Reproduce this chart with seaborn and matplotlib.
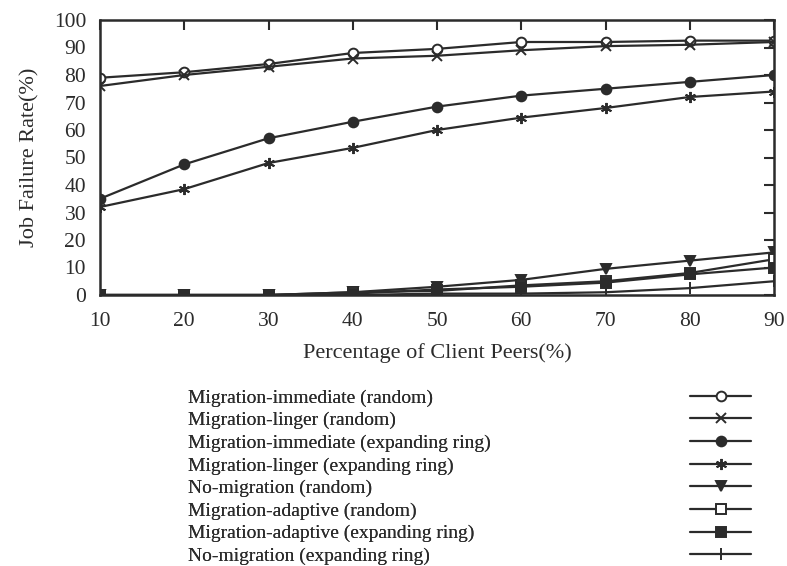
import matplotlib
matplotlib.use("Agg")
import matplotlib.pyplot as plt
import seaborn as sns
import pandas as pd

sns.set_theme(style="white")
plt.rcParams['font.family'] = ['Liberation Serif', 'DejaVu Serif']

x_pct = [10, 20, 30, 40, 50, 60, 70, 80, 90]
series_names = [
    "Migration-immediate (random)",
    "Migration-linger (random)",
    "Migration-immediate (expanding ring)",
    "Migration-linger (expanding ring)",
    "No-migration (random)",
    "Migration-adaptive (random)",
    "Migration-adaptive (expanding ring)",
    "No-migration (expanding ring)",
]
mig_imm_random = [79, 81, 84, 88, 89.5, 92, 92, 92.5, 92.5]
mig_linger_random = [76, 80, 83, 86, 87, 89, 90.5, 91, 92]
mig_imm_ring = [35, 47.5, 57, 63, 68.5, 72.5, 75, 77.5, 80]
mig_linger_ring = [32, 38.5, 48, 53.5, 60, 64.5, 68, 72, 74]
nomig_random = [0, 0, 0, 1, 3, 5.5, 9.5, 12.5, 15.5]
mig_adapt_random = [0, 0, 0, 1, 1.5, 3.5, 5, 8, 13]
mig_adapt_ring = [0, 0, 0, 0.5, 2, 3, 4.5, 7.5, 10]
nomig_ring = [0, 0, 0, 0, 0.5, 0.5, 1, 2.5, 5]
values = [mig_imm_random, mig_linger_random, mig_imm_ring, mig_linger_ring,
          nomig_random, mig_adapt_random, mig_adapt_ring, nomig_ring]

ink = "#2b2b2b"
styles = [
    dict(marker="o", mfc="white", ms=7),
    dict(marker="x", mfc=ink, ms=7),
    dict(marker="o", mfc=ink, ms=7),
    dict(marker=(6, 2, 0), mfc=ink, ms=8),
    dict(marker="v", mfc=ink, ms=7),
    dict(marker="s", mfc="white", ms=6.5),
    dict(marker="s", mfc=ink, ms=6.5),
    dict(marker="|", mfc=ink, ms=9),
]

fig = plt.figure(figsize=(7.87, 5.66), dpi=100)
ax = fig.add_axes([100/787, 1 - 295/566, (774-100)/787, (295-20)/566])

for name, vals, st in zip(series_names, values, styles):
    df = pd.DataFrame({"x": x_pct, "y": vals})
    sns.lineplot(data=df, x="x", y="y", ax=ax, color=ink, linewidth=1.6,
                 marker=st["marker"], markersize=st["ms"],
                 markerfacecolor=st["mfc"], markeredgecolor=ink,
                 markeredgewidth=1.4, label=name, legend=False)

ax.set_xlim(10, 90)
ax.set_ylim(0, 100)
ax.set_xticks(x_pct)
ax.set_yticks(range(0, 101, 10))
ax.tick_params(direction="in", length=7, width=1.5, top=True, right=True,
               labelsize=15.5, colors=ink)
ax.tick_params(axis="y", pad=10)
ax.tick_params(axis="x", pad=12)
for s in ax.spines.values():
    s.set_linewidth(1.8)
    s.set_color(ink)
ax.set_xlabel("Percentage of Client Peers(%)", fontsize=16, color=ink, labelpad=9)
ax.set_ylabel("Job Failure Rate(%)", fontsize=16, color=ink, labelpad=10)

handles, labels = ax.get_legend_handles_labels()
fs = 14
top_y = 1 - 389/566
lsp = 0.255
leg_txt = fig.legend(handles, labels, loc="upper left", bbox_to_anchor=(188/787, top_y),
                     frameon=False, fontsize=fs, handlelength=0, handletextpad=0,
                     labelspacing=lsp, borderpad=0, borderaxespad=0, labelcolor=ink)
for h in leg_txt.legend_handles:
    h.set_visible(False)
leg_h = fig.legend(handles, labels, loc="upper left", bbox_to_anchor=(690/787, top_y),
                   frameon=False, fontsize=fs, handlelength=61/(fs*100/72),
                   handletextpad=0.3, labelspacing=lsp, borderpad=0, borderaxespad=0)
for t in leg_h.get_texts():
    t.set_visible(False)
fig.add_artist(leg_txt)

fig.savefig("out.png", dpi=100)
